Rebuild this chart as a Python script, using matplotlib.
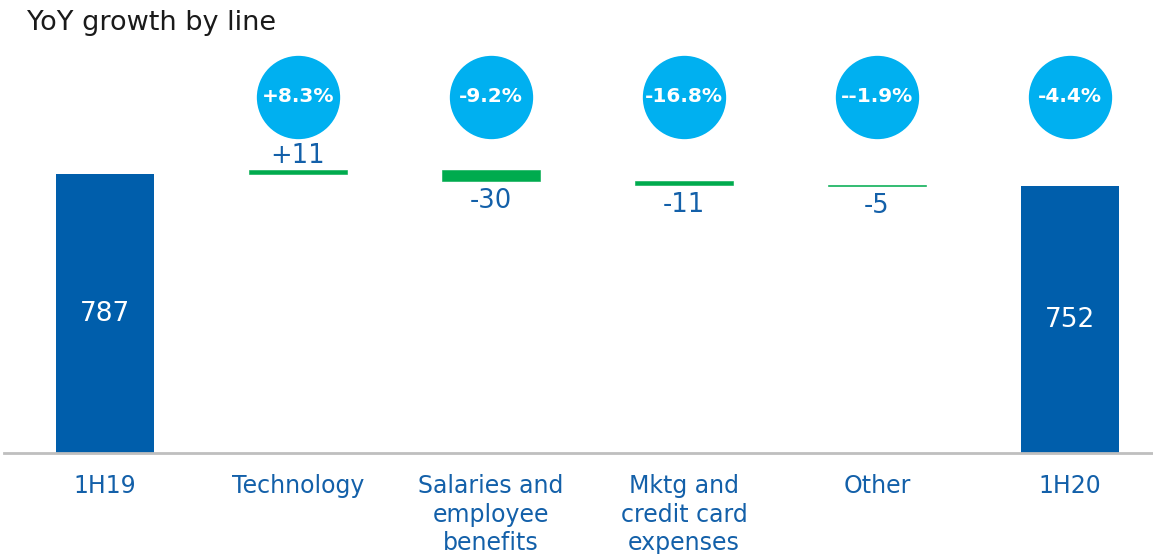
import matplotlib
matplotlib.use("Agg")
import matplotlib.pyplot as plt
import numpy as np

categories = ["1H19", "Technology", "Salaries and\nemployee\nbenefits",
              "Mktg and\ncredit card\nexpenses", "Other", "1H20"]
start_total = 787
changes = [11, -30, -11, -5]
end_total = 752
growth_labels = ["+8.3%", "-9.2%", "-16.8%", "--1.9%", "-4.4%"]

TOTAL_COLOR = "#005eab"
DELTA_COLOR = "#00ab4e"
BUBBLE_COLOR = "#00b0f0"
LABEL_COLOR = "#1360a9"

plt.rcParams["font.family"] = ["DejaVu Sans"]

fig = plt.figure(figsize=(11.53, 5.54), dpi=100)
ax = fig.add_axes([4 / 1153, 1 - 453 / 554, 1 - 4 / 1153, (453 - 40) / 554])

x = np.arange(len(categories))
width = 0.503

# running totals for the floating bars
tops = np.cumsum([start_total] + changes)
bottoms = tops[:-1]
delta_x = x[1:-1]

ax.bar(x[0], start_total, width=width, color=TOTAL_COLOR)
ax.bar(x[-1], end_total, width=width, color=TOTAL_COLOR)
ax.bar(delta_x, changes, bottom=bottoms, width=width, color=DELTA_COLOR,
       edgecolor=DELTA_COLOR, linewidth=0.4)

ax.text(x[0], start_total / 2, str(start_total), ha="center", va="center",
        color="white", fontsize=19)
ax.text(x[-1], end_total / 2, str(end_total), ha="center", va="center",
        color="white", fontsize=19)

for xi, b, d in zip(delta_x, bottoms, changes):
    end = b + d
    if d > 0:
        ax.annotate(f"+{d}", (xi, end), xytext=(0, 1), textcoords="offset points",
                    ha="center", va="bottom", color=LABEL_COLOR, fontsize=18.5)
    else:
        ax.annotate(f"{d}", (xi, end), xytext=(0, -5), textcoords="offset points",
                    ha="center", va="top", color=LABEL_COLOR, fontsize=18.5)

# growth bubbles above each column
trans = ax.get_xaxis_transform()
bx = x[1:]
ax.scatter(bx, [0.862] * len(bx), s=3600, color=BUBBLE_COLOR, transform=trans,
           clip_on=False, zorder=3, linewidths=0)
for xi, g in zip(bx, growth_labels):
    ax.text(xi, 0.862, g, transform=trans, ha="center", va="center",
            color="white", fontsize=14.5, fontweight="bold", zorder=4)

ax.set_xlim(-101 / 193, (1153 - 4 - 101) / 193)
ax.set_ylim(0, 413 / 0.3545)
ax.set_xticks(x, categories)
ax.tick_params(axis="x", length=0, pad=15, labelsize=17, labelcolor=LABEL_COLOR)
for lbl in ax.get_xticklabels():
    lbl.set_linespacing(1.25)
ax.set_yticks([])
for side in ["top", "right", "left"]:
    ax.spines[side].set_visible(False)
ax.spines["bottom"].set_color("#bfbfbf")
ax.spines["bottom"].set_linewidth(2)

fig.text(27 / 1153, 1 - 23 / 554, "YoY growth by line", ha="left", va="center",
         fontsize=19.5, color="#1a1a1a")

fig.savefig("out.png", dpi=100)
